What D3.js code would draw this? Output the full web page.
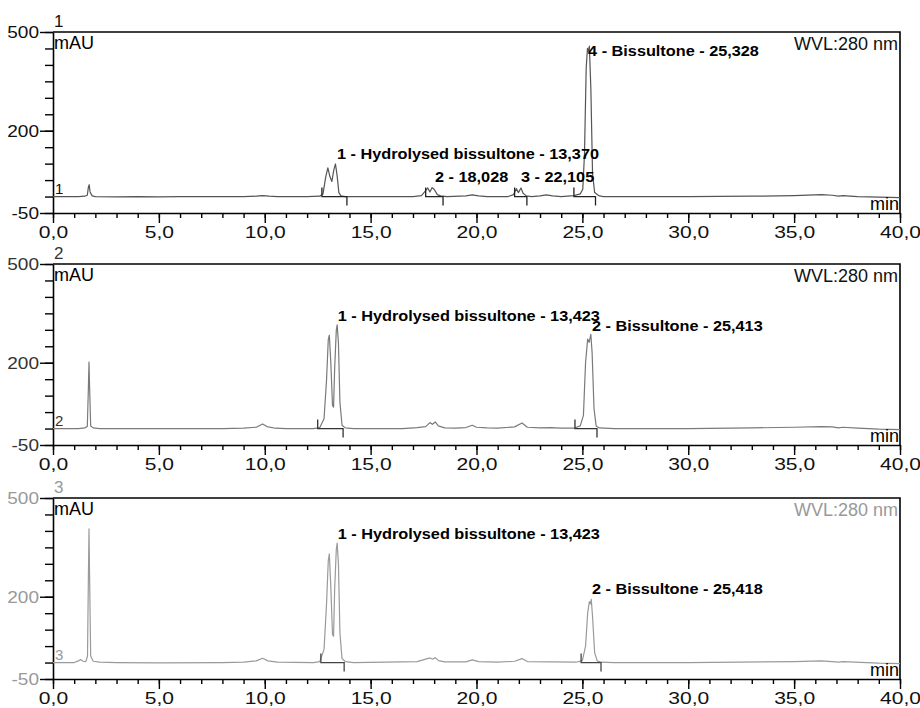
<!DOCTYPE html>
<html>
<head>
<meta charset="utf-8">
<script src="https://cdn.jsdelivr.net/npm/d3@7/dist/d3.min.js"></script>
<style>
  body { margin: 0; background: #fff; }
  svg { display: block; font-family: "Liberation Sans", Arial, Helvetica, sans-serif; }
</style>
</head>
<body>
<svg id="chart" width="920" height="708"></svg>
<script>
// ---------- data (time in min, absorbance in mAU) ----------
const panelIds = ["1", "2", "3"];
const xTickValues = [0, 5, 10, 15, 20, 25, 30, 35, 40];
const xTickLabels = ["0,0", "5,0", "10,0", "15,0", "20,0", "25,0", "30,0", "35,0", "40,0"];
const yTickValues = [-50, 200, 500];
const yTickLabels = ["-50", "200", "500"];
const wavelengthLabel = "WVL:280 nm";

const trace1 = [
  [0,0],[1.2,0],[1.5,1],[1.62,4],[1.67,28],[1.71,36],[1.75,14],[1.85,2],[2.0,0],[3.0,-1],[4.0,0],[5.0,-1],
  [6.0,0],[9.0,0],[9.6,1],[9.9,3],[10.2,1],[10.6,0],[12.0,0],[12.6,1],[12.75,8],[12.88,60],[12.98,87],
  [13.08,60],[13.17,46],[13.26,80],[13.34,99],[13.42,62],[13.5,12],[13.6,2],[13.8,0],[15.0,0],[17.0,0],
  [17.4,3],[17.6,18],[17.7,26],[17.8,14],[17.9,27],[18.0,22],[18.15,6],[18.3,2],[18.6,0],[19.5,2],[19.8,5],
  [20.1,2],[20.5,0],[21.5,0],[21.75,6],[21.88,24],[21.98,12],[22.1,26],[22.2,10],[22.35,2],[22.6,0],
  [23.0,2],[23.3,5],[23.6,2],[24.0,0],[24.6,3],[24.9,8],[25.02,22],[25.1,130],[25.18,390],[25.24,450],
  [25.28,440],[25.33,457],[25.4,330],[25.48,70],[25.58,12],[25.8,2],[26.0,0],[30,0],[33,1],[35,3],
  [36.3,6],[36.8,4],[37.1,1],[37.3,3],[38,0],[39,-2],[40,-3]
];
const trace2 = [
  [0,0],[1.2,0],[1.5,2],[1.62,6],[1.67,120],[1.7,202],[1.73,120],[1.78,8],[1.9,2],[2.2,0],[5,0],[8,0],
  [9.0,1],[9.6,4],[9.9,14],[10.1,6],[10.5,1],[11,0],[12.3,0],[12.6,3],[12.8,30],[12.92,150],[13.0,270],
  [13.05,284],[13.12,200],[13.2,70],[13.25,65],[13.3,180],[13.38,300],[13.42,315],[13.48,260],[13.55,80],
  [13.65,10],[13.8,2],[14.2,0],[16.5,0],[17.2,3],[17.6,6],[17.8,18],[17.92,13],[18.05,20],[18.2,8],[18.5,2],
  [19,1],[19.5,3],[19.8,10],[20.0,4],[20.5,2],[21,1],[21.8,5],[22.15,17],[22.4,4],[23,2],[23.5,3],[24,1],
  [24.6,1],[24.9,8],[25.05,40],[25.15,200],[25.25,272],[25.32,262],[25.4,286],[25.46,230],[25.55,60],
  [25.65,8],[25.8,2],[26.5,0],[30,0],[33,2],[35,4],[36.3,6],[36.8,5],[37.1,2],[37.3,4],[38,1],[39,-2],[40,-3]
];
const trace3 = [
  [0,0],[1.0,0],[1.2,5],[1.3,9],[1.42,4],[1.55,3],[1.63,20],[1.67,250],[1.7,406],[1.73,250],[1.78,20],
  [1.9,4],[2.2,1],[3,0],[5,-1],[8,0],[9.0,1],[9.6,5],[9.9,13],[10.15,5],[10.6,1],[12.3,0],[12.6,3],
  [12.8,40],[12.92,180],[13.0,310],[13.05,330],[13.12,230],[13.2,85],[13.25,80],[13.3,220],[13.38,345],
  [13.42,363],[13.48,300],[13.55,90],[13.65,12],[13.8,3],[14.2,0],[17.2,3],[17.8,14],[17.93,10],[18.05,15],
  [18.2,6],[18.5,2],[19.5,2],[19.8,8],[20.1,3],[21,1],[21.8,4],[22.15,12],[22.4,3],[24.7,1],[25.0,6],
  [25.15,50],[25.25,150],[25.33,185],[25.38,178],[25.42,192],[25.48,140],[25.58,30],[25.7,5],[25.9,1],
  [26.5,0],[30,0],[35,3],[36.3,5],[37.1,1],[37.3,3],[39,-2],[40,-3]
];

// integration marks: peak start / end times
const peakStarts1 = [12.7, 17.6, 21.8, 24.6];
const peakEnds1   = [13.88, 18.42, 22.38, 25.62];
const peakStarts2 = [12.5, 24.65];
const peakEnds2   = [13.7, 25.69];
const peakStarts3 = [12.65, 24.94];
const peakEnds3   = [13.75, 25.88];

// peak labels: text, anchor time (min), anchor level (mAU)
const peakLabels1 = [
  ["1 - Hydrolysed bissultone - 13,370", 13.41, 114],
  ["2 - 18,028", 18.04, 44],
  ["3 - 22,105", 22.1, 44],
  ["4 - Bissultone - 25,328", 25.27, 427]
];
const peakLabels2 = [
  ["1 - Hydrolysed bissultone - 13,423", 13.45, 327],
  ["2 - Bissultone - 25,413", 25.45, 296]
];
const peakLabels3 = [
  ["1 - Hydrolysed bissultone - 13,423", 13.45, 375],
  ["2 - Bissultone - 25,418", 25.45, 208]
];

// ---------- layout / style ----------
const traces = [trace1, trace2, trace3];
const starts = [peakStarts1, peakStarts2, peakStarts3];
const ends = [peakEnds1, peakEnds2, peakEnds3];
const labels = [peakLabels1, peakLabels2, peakLabels3];
const panelTops = [32, 264, 498];
const panelH = 181;
const left = 53, right = 900;
const traceColors = ["#555", "#7a7a7a", "#9a9a9a"];
const axisTextColors = ["#111", "#333", "#999"];
const markColors = ["#222", "#333", "#444"];
const xStretch = 1.24, yStretch = 1.12, labelStretch = 1.05;

const svg = d3.select("#chart");
const x = d3.scaleLinear().domain([0, 40]).range([left, right]);

panelIds.forEach((id, i) => {
  const top = panelTops[i], bottom = top + panelH;
  const y = d3.scaleLinear().domain([-50, 500]).range([bottom, top]);
  const g = svg.append("g");

  // frame (top + right)
  g.append("path")
    .attr("d", `M${left},${top}H${right}V${bottom}`)
    .attr("fill", "none").attr("stroke", "#000").attr("stroke-width", 1.6);

  // y axis: minor ticks
  g.append("g").attr("transform", `translate(${left},0)`)
    .call(d3.axisLeft(y).tickValues(d3.range(-50, 501, 50)).tickSize(8).tickSizeOuter(0).tickFormat(""))
    .call(a => a.selectAll("line").attr("stroke", "#000").attr("stroke-width", 1.4))
    .call(a => a.select(".domain").attr("stroke", "#000").attr("stroke-width", 1.6));
  // y axis: major ticks with labels
  g.append("g").attr("transform", `translate(${left},0)`)
    .call(d3.axisLeft(y).tickValues(yTickValues).tickSize(13).tickSizeOuter(0).tickPadding(1)
      .tickFormat((d, k) => yTickLabels[k]))
    .call(a => a.select(".domain").remove())
    .call(a => a.selectAll("line").attr("stroke", "#000").attr("stroke-width", 1.4))
    .call(a => a.selectAll("text").attr("font-size", 17).attr("fill", axisTextColors[i])
      .attr("font-family", "Liberation Sans, Arial, sans-serif")
      .attr("x", -14 / yStretch).attr("transform", `scale(${yStretch},1)`));

  // x axis: minor ticks
  g.append("g").attr("transform", `translate(0,${bottom})`)
    .call(d3.axisBottom(x).tickValues(d3.range(0, 41, 1)).tickSize(5).tickSizeOuter(0).tickFormat(""))
    .call(a => a.selectAll("line").attr("stroke", "#000").attr("stroke-width", 1.4))
    .call(a => a.select(".domain").attr("stroke", "#000").attr("stroke-width", 1.6));
  // x axis: major ticks with labels
  g.append("g").attr("transform", `translate(0,${bottom})`)
    .call(d3.axisBottom(x).tickValues(xTickValues).tickSize(10).tickSizeOuter(0).tickPadding(3)
      .tickFormat((d, k) => xTickLabels[k]))
    .call(a => a.select(".domain").remove())
    .call(a => a.selectAll("line").attr("stroke", "#000").attr("stroke-width", 1.4))
    .call(a => a.selectAll("text").attr("font-size", 17).attr("fill", "#111")
      .attr("font-family", "Liberation Sans, Arial, sans-serif")
      .attr("transform", `scale(${xStretch},1)`));

  // chromatogram trace
  const line = d3.line().x(d => x(d[0])).y(d => y(d[1]));
  g.append("path").datum(traces[i])
    .attr("d", line).attr("fill", "none")
    .attr("stroke", traceColors[i]).attr("stroke-width", 1.2).attr("stroke-linejoin", "round");

  // integration marks
  starts[i].forEach((s, k) => {
    const e = ends[i][k];
    g.append("path")
      .attr("d", `M${x(s)},${y(0) - 9}V${y(0)}H${x(e)}V${y(0) + 9}`)
      .attr("fill", "none").attr("stroke", markColors[i]).attr("stroke-width", 1.3);
  });

  // peak labels
  labels[i].forEach(([txt, t, v]) => {
    g.append("text")
      .attr("transform", `translate(${x(t)},${y(v)}) scale(${labelStretch},1)`)
      .attr("font-size", 15.5).attr("font-weight", "bold").attr("fill", "#000")
      .text(txt);
  });

  // panel number above, unit, WVL, min, small number at baseline
  g.append("text").attr("x", left + 1).attr("y", top - 5)
    .attr("font-size", 17).attr("fill", axisTextColors[i]).text(id);
  g.append("text").attr("x", left + 1).attr("y", top + 17)
    .attr("font-size", 18).attr("fill", "#000").text("mAU");
  g.append("text").attr("x", right - 2).attr("y", top + 18).attr("text-anchor", "end")
    .attr("font-size", 18).attr("fill", i === 2 ? "#999" : "#111").text(wavelengthLabel);
  g.append("text").attr("x", right - 1).attr("y", bottom - 3).attr("text-anchor", "end")
    .attr("font-size", 18).attr("fill", "#000").text("min");
  g.append("text").attr("x", left + 2).attr("y", y(0) - 3)
    .attr("font-size", 15).attr("fill", axisTextColors[i]).text(id);
});
</script>
</body>
</html>
